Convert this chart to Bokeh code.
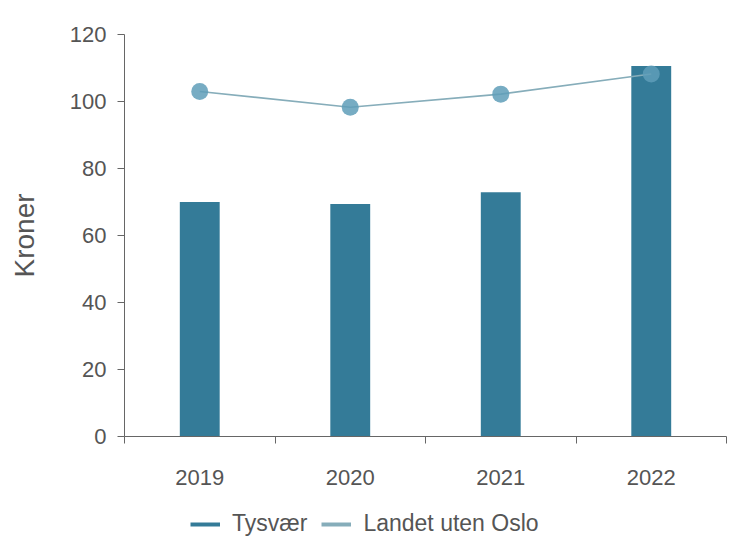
from bokeh.plotting import figure
from bokeh.layouts import column
from bokeh.models import FixedTicker, Range1d, Legend, LegendItem, ColumnDataSource
from bokeh.embed import file_html
from bokeh.resources import INLINE

years = ["2019", "2020", "2021", "2022"]
tysvaer = [70.0, 69.4, 72.9, 110.6]
landet = [103.0, 98.3, 102.2, 108.2]
series_names = ["Tysvær", "Landet uten Oslo"]

xs = list(range(len(years)))
FONT = "Liberation Sans"
BAR = "#347b98"
LINE = "#86adba"
MARK = "#5f9db8"
TXT = "#555555"
AX = "#666666"

p = figure(width=728, height=500, output_backend="svg", toolbar_location=None,
           x_range=Range1d(-0.5, len(years) - 0.5), y_range=Range1d(0, 120),
           min_border_left=124, min_border_right=2, min_border_top=34, min_border_bottom=64)
p.outline_line_color = None
p.xgrid.visible = False
p.ygrid.visible = False

src = ColumnDataSource(dict(x=xs, bar=tysvaer, line=landet))
p.vbar(x="x", top="bar", width=0.265, source=src, fill_color=BAR, line_color=None)
p.line(x="x", y="line", source=src, line_color=LINE, line_width=1.6)
p.scatter(x="x", y="line", source=src, size=17, fill_color=MARK, line_color=None, fill_alpha=0.85)

xa = p.xaxis[0]
xa.ticker = FixedTicker(ticks=xs, minor_ticks=[x - 0.5 for x in xs] + [xs[-1] + 0.5])
xa.major_label_overrides = {i: y for i, y in enumerate(years)}
xa.major_tick_line_color = None
xa.minor_tick_line_color = AX
xa.minor_tick_in = 0
xa.minor_tick_out = 7
xa.axis_line_color = AX
xa.major_label_text_font = FONT
xa.major_label_text_font_size = "22px"
xa.major_label_text_color = TXT
xa.major_label_standoff = 26

ya = p.yaxis[0]
ya.ticker = FixedTicker(ticks=[0, 20, 40, 60, 80, 100, 120])
ya.minor_tick_line_color = None
ya.major_tick_in = 0
ya.major_tick_out = 7
ya.major_tick_line_color = AX
ya.axis_line_color = AX
ya.major_label_text_font = FONT
ya.major_label_text_font_size = "22px"
ya.major_label_text_color = TXT
ya.major_label_standoff = 11
ya.axis_label = "Kroner"
ya.axis_label_text_font = FONT
ya.axis_label_text_font_size = "28px"
ya.axis_label_text_font_style = "normal"
ya.axis_label_text_color = TXT
ya.axis_label_standoff = 27

# legend strip below the chart
lf = figure(width=728, height=38, output_backend="svg", toolbar_location=None,
            x_range=Range1d(0, 1), y_range=Range1d(0, 1),
            x_axis_type=None, y_axis_type=None,
            min_border_left=0, min_border_right=0, min_border_top=0, min_border_bottom=0)
lf.outline_line_color = None
lf.xgrid.visible = False
lf.ygrid.visible = False
l1 = lf.line(x=[5, 6], y=[5, 6], line_color=BAR, line_width=4)
l2 = lf.line(x=[5, 6], y=[5, 6], line_color=LINE, line_width=4)
legend = Legend(items=[LegendItem(label=series_names[0], renderers=[l1]),
                       LegendItem(label=series_names[1], renderers=[l2])],
                orientation="horizontal", location=(66, 1),
                label_text_font=FONT, label_text_font_size="23px", label_text_color=TXT,
                glyph_width=30, glyph_height=20, spacing=14, label_standoff=12,
                padding=4, margin=0,
                border_line_color=None, background_fill_alpha=0)
lf.add_layout(legend, "center")

open("out.html", "w").write(file_html(column(p, lf, spacing=0), INLINE))
